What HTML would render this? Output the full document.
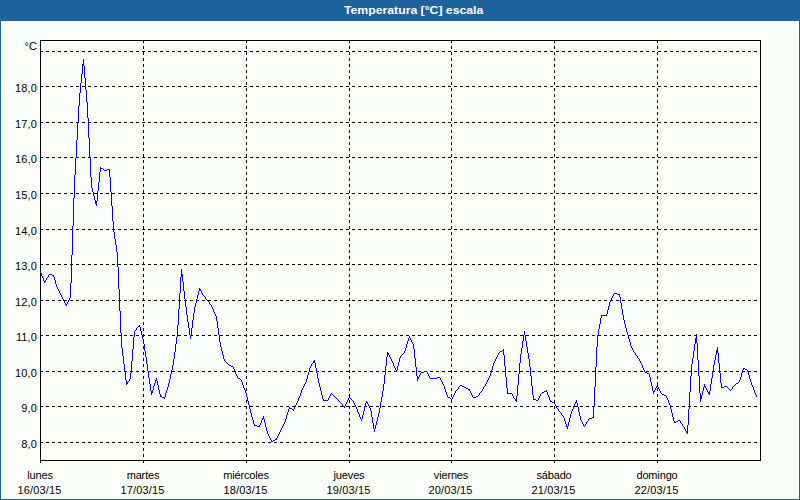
<!DOCTYPE html>
<html><head><meta charset="utf-8"><title>Temperatura</title>
<style>
html,body{margin:0;padding:0}
body{width:800px;height:500px;overflow:hidden;background:#1d6299;position:relative;font-family:"Liberation Sans",sans-serif;font-size:11px;color:#000}
#inner{position:absolute;left:1px;top:21px;width:798px;height:478px;background:#fcfefc}
#title{z-index:2;position:absolute;left:343.5px;top:0;width:300px;height:20px;line-height:20px;text-align:left;white-space:nowrap;color:#fff;font-weight:bold;font-size:11px}
.yl{position:absolute;left:0;width:37px;letter-spacing:0.12px;text-align:right;height:12px;line-height:12px;white-space:nowrap}
.xl{position:absolute;width:100px;text-align:center;height:12px;line-height:12px;white-space:nowrap}
</style></head><body>
<div id="title"><span id="tt" style="display:inline-block;transform-origin:0 50%;transform:scaleX(1.112)">Temperatura [°C] escala</span></div>
<div id="inner"></div>
<svg width="800" height="500" viewBox="0 0 800 500" style="position:absolute;left:0;top:0" shape-rendering="crispEdges"><defs><pattern id="dz" x="0" y="0" width="4" height="4" patternUnits="userSpaceOnUse"><rect x="0" y="1" width="1" height="1" fill="#2365b2"/><rect x="2" y="3" width="1" height="1" fill="#2365b2"/></pattern></defs><rect x="0" y="0" width="800" height="20" fill="url(#dz)"/><line x1="40" y1="442.5" x2="760" y2="442.5" stroke="#000" stroke-width="1" stroke-dasharray="3 3"/><line x1="40" y1="406.5" x2="760" y2="406.5" stroke="#000" stroke-width="1" stroke-dasharray="3 3"/><line x1="40" y1="371.5" x2="760" y2="371.5" stroke="#000" stroke-width="1" stroke-dasharray="3 3"/><line x1="40" y1="335.5" x2="760" y2="335.5" stroke="#000" stroke-width="1" stroke-dasharray="3 3"/><line x1="40" y1="300.5" x2="760" y2="300.5" stroke="#000" stroke-width="1" stroke-dasharray="3 3"/><line x1="40" y1="264.5" x2="760" y2="264.5" stroke="#000" stroke-width="1" stroke-dasharray="3 3"/><line x1="40" y1="229.5" x2="760" y2="229.5" stroke="#000" stroke-width="1" stroke-dasharray="3 3"/><line x1="40" y1="193.5" x2="760" y2="193.5" stroke="#000" stroke-width="1" stroke-dasharray="3 3"/><line x1="40" y1="157.5" x2="760" y2="157.5" stroke="#000" stroke-width="1" stroke-dasharray="3 3"/><line x1="40" y1="122.5" x2="760" y2="122.5" stroke="#000" stroke-width="1" stroke-dasharray="3 3"/><line x1="40" y1="86.5" x2="760" y2="86.5" stroke="#000" stroke-width="1" stroke-dasharray="3 3"/><line x1="40" y1="51.5" x2="760" y2="51.5" stroke="#000" stroke-width="1" stroke-dasharray="3 3"/><line x1="143.5" y1="40" x2="143.5" y2="463" stroke="#000" stroke-width="1" stroke-dasharray="3 3"/><line x1="246.5" y1="40" x2="246.5" y2="463" stroke="#000" stroke-width="1" stroke-dasharray="3 3"/><line x1="349.5" y1="40" x2="349.5" y2="463" stroke="#000" stroke-width="1" stroke-dasharray="3 3"/><line x1="451.5" y1="40" x2="451.5" y2="463" stroke="#000" stroke-width="1" stroke-dasharray="3 3"/><line x1="554.5" y1="40" x2="554.5" y2="463" stroke="#000" stroke-width="1" stroke-dasharray="3 3"/><line x1="657.5" y1="40" x2="657.5" y2="463" stroke="#000" stroke-width="1" stroke-dasharray="3 3"/><rect x="40.5" y="40.5" width="720" height="420" fill="none" stroke="#000" stroke-width="1"/><line x1="40.5" y1="460" x2="40.5" y2="463" stroke="#000" stroke-width="1"/><path d="M40.5 271v2M41.5 273v3M42.5 276v2M43.5 278v3M44.5 281v2M45.5 280v2M46.5 278v2M47.5 277v1M48.5 275v2M49.5 274v1M50.5 274v1M51.5 274v1M52.5 275v1M53.5 275v2M54.5 277v3M55.5 280v4M56.5 284v3M57.5 287v2M58.5 289v2M59.5 291v2M60.5 293v2M61.5 295v2M62.5 297v2M63.5 299v2M64.5 301v2M65.5 303v2M66.5 304v2M67.5 302v2M68.5 300v2M69.5 298v2M70.5 283v15M71.5 255v28M72.5 226v29M73.5 198v28M74.5 175v23M75.5 158v17M76.5 140v18M77.5 123v17M78.5 106v17M79.5 93v13M80.5 83v10M81.5 74v9M82.5 64v10M83.5 59v7M84.5 66v12M85.5 78v12M86.5 90v12M87.5 102v16M88.5 118v20M89.5 138v19M90.5 157v20M91.5 177v11M92.5 188v4M93.5 192v4M94.5 196v4M95.5 200v4M96.5 201v5M97.5 191v10M98.5 182v9M99.5 172v10M100.5 167v5M101.5 168v1M102.5 168v1M103.5 169v1M104.5 170v1M105.5 170v1M106.5 170v1M107.5 169v1M108.5 169v1M109.5 169v8M110.5 177v15M111.5 192v14M112.5 206v15M113.5 221v11M114.5 232v7M115.5 239v6M116.5 245v7M117.5 252v15M118.5 267v22M119.5 289v22M120.5 311v22M121.5 333v15M122.5 348v8M123.5 356v8M124.5 364v8M125.5 372v8M126.5 380v5M127.5 382v2M128.5 381v1M129.5 379v2M130.5 373v6M131.5 361v12M132.5 349v12M133.5 337v12M134.5 331v6M135.5 330v1M136.5 328v2M137.5 327v1M138.5 326v1M139.5 325v2M140.5 327v4M141.5 331v4M142.5 335v4M143.5 339v5M144.5 344v7M145.5 351v6M146.5 357v7M147.5 364v7M148.5 371v7M149.5 378v6M150.5 384v7M151.5 391v4M152.5 390v3M153.5 386v4M154.5 383v3M155.5 380v3M156.5 378v3M157.5 381v4M158.5 385v5M159.5 390v4M160.5 394v3M161.5 396v1M162.5 397v1M163.5 397v1M164.5 397v2M165.5 393v4M166.5 390v3M167.5 387v3M168.5 383v4M169.5 379v4M170.5 374v5M171.5 370v4M172.5 365v5M173.5 359v6M174.5 352v7M175.5 344v8M176.5 337v7M177.5 325v12M178.5 309v16M179.5 293v16M180.5 277v16M181.5 269v8M182.5 274v8M183.5 282v9M184.5 291v8M185.5 299v8M186.5 307v8M187.5 315v7M188.5 322v6M189.5 328v7M190.5 335v4M191.5 328v7M192.5 320v8M193.5 313v7M194.5 307v6M195.5 303v4M196.5 299v4M197.5 295v4M198.5 291v4M199.5 288v3M200.5 289v2M201.5 291v2M202.5 293v2M203.5 295v1M204.5 296v1M205.5 297v2M206.5 299v1M207.5 300v1M208.5 301v1M209.5 302v2M210.5 304v1M211.5 305v2M212.5 307v2M213.5 309v3M214.5 312v2M215.5 314v2M216.5 316v5M217.5 321v7M218.5 328v7M219.5 335v7M220.5 342v5M221.5 347v4M222.5 351v4M223.5 355v4M224.5 359v2M225.5 361v1M226.5 362v1M227.5 363v1M228.5 364v1M229.5 365v1M230.5 365v1M231.5 366v1M232.5 366v1M233.5 367v2M234.5 369v2M235.5 371v3M236.5 374v2M237.5 376v2M238.5 378v1M239.5 378v1M240.5 379v1M241.5 380v2M242.5 382v3M243.5 385v3M244.5 388v2M245.5 390v3M246.5 393v4M247.5 397v4M248.5 401v4M249.5 405v4M250.5 409v4M251.5 413v4M252.5 417v3M253.5 420v4M254.5 424v2M255.5 425v1M256.5 425v1M257.5 426v1M258.5 426v1M259.5 425v2M260.5 423v2M261.5 420v3M262.5 418v2M263.5 416v3M264.5 419v4M265.5 423v4M266.5 427v4M267.5 431v3M268.5 434v2M269.5 436v2M270.5 438v2M271.5 440v2M272.5 441v1M273.5 440v1M274.5 440v1M275.5 439v1M276.5 438v2M277.5 436v2M278.5 434v2M279.5 432v2M280.5 430v2M281.5 428v2M282.5 426v2M283.5 424v2M284.5 422v2M285.5 419v3M286.5 415v4M287.5 412v3M288.5 409v3M289.5 407v2M290.5 408v1M291.5 408v1M292.5 409v1M293.5 409v2M294.5 407v2M295.5 405v2M296.5 403v2M297.5 401v2M298.5 398v3M299.5 396v2M300.5 393v3M301.5 390v3M302.5 388v2M303.5 386v2M304.5 384v2M305.5 382v2M306.5 379v3M307.5 375v4M308.5 372v3M309.5 368v4M310.5 366v2M311.5 364v2M312.5 363v1M313.5 361v2M314.5 360v3M315.5 363v5M316.5 368v5M317.5 373v5M318.5 378v5M319.5 383v4M320.5 387v4M321.5 391v4M322.5 395v4M323.5 399v2M324.5 400v1M325.5 400v1M326.5 400v1M327.5 400v1M328.5 398v2M329.5 396v2M330.5 394v2M331.5 393v1M332.5 394v1M333.5 395v1M334.5 396v1M335.5 397v1M336.5 398v1M337.5 399v1M338.5 400v1M339.5 401v1M340.5 402v1M341.5 403v1M342.5 404v2M343.5 406v1M344.5 406v2M345.5 404v2M346.5 402v2M347.5 400v2M348.5 398v2M349.5 397v1M350.5 398v1M351.5 399v1M352.5 400v1M353.5 401v2M354.5 403v2M355.5 405v2M356.5 407v2M357.5 409v3M358.5 412v2M359.5 414v3M360.5 417v2M361.5 419v2M362.5 415v4M363.5 411v4M364.5 407v4M365.5 403v4M366.5 401v2M367.5 402v2M368.5 404v2M369.5 406v2M370.5 408v3M371.5 411v6M372.5 417v6M373.5 423v6M374.5 429v3M375.5 425v4M376.5 421v4M377.5 417v4M378.5 413v4M379.5 408v5M380.5 402v6M381.5 397v5M382.5 391v6M383.5 384v7M384.5 375v9M385.5 366v9M386.5 357v9M387.5 352v5M388.5 353v2M389.5 355v2M390.5 357v2M391.5 359v2M392.5 361v2M393.5 363v3M394.5 366v2M395.5 368v2M396.5 370v2M397.5 366v4M398.5 362v4M399.5 358v4M400.5 356v2M401.5 355v1M402.5 354v1M403.5 353v1M404.5 351v2M405.5 348v3M406.5 344v4M407.5 341v3M408.5 338v3M409.5 336v2M410.5 338v2M411.5 340v2M412.5 342v2M413.5 344v5M414.5 349v9M415.5 358v9M416.5 367v9M417.5 376v5M418.5 377v2M419.5 375v2M420.5 373v2M421.5 372v1M422.5 372v1M423.5 372v1M424.5 371v1M425.5 371v1M426.5 371v1M427.5 372v2M428.5 374v2M429.5 376v2M430.5 378v1M431.5 378v1M432.5 378v1M433.5 378v1M434.5 378v1M435.5 378v1M436.5 378v1M437.5 377v1M438.5 377v1M439.5 377v1M440.5 378v2M441.5 380v2M442.5 382v2M443.5 384v2M444.5 386v3M445.5 389v3M446.5 392v3M447.5 395v2M448.5 397v1M449.5 397v1M450.5 398v1M451.5 399v1M452.5 397v2M453.5 395v2M454.5 393v2M455.5 391v2M456.5 390v1M457.5 389v1M458.5 387v2M459.5 386v1M460.5 385v1M461.5 385v1M462.5 386v1M463.5 386v1M464.5 387v1M465.5 387v1M466.5 388v1M467.5 388v1M468.5 389v1M469.5 389v2M470.5 391v2M471.5 393v2M472.5 395v2M473.5 397v1M474.5 397v1M475.5 397v1M476.5 396v1M477.5 396v1M478.5 395v1M479.5 393v2M480.5 392v1M481.5 391v1M482.5 389v2M483.5 387v2M484.5 386v1M485.5 384v2M486.5 382v2M487.5 380v2M488.5 378v2M489.5 376v2M490.5 373v3M491.5 370v3M492.5 366v4M493.5 363v3M494.5 361v2M495.5 359v2M496.5 357v2M497.5 355v2M498.5 353v2M499.5 352v1M500.5 351v1M501.5 351v1M502.5 350v1M503.5 349v6M504.5 355v11M505.5 366v11M506.5 377v11M507.5 388v6M508.5 393v1M509.5 393v1M510.5 393v1M511.5 393v1M512.5 394v2M513.5 396v2M514.5 398v1M515.5 399v2M516.5 396v6M517.5 385v11M518.5 374v11M519.5 363v11M520.5 354v9M521.5 348v6M522.5 341v7M523.5 335v6M524.5 331v4M525.5 335v6M526.5 341v6M527.5 347v6M528.5 353v6M529.5 359v8M530.5 367v9M531.5 376v10M532.5 386v9M533.5 395v5M534.5 399v1M535.5 399v1M536.5 400v1M537.5 400v1M538.5 398v2M539.5 396v2M540.5 394v2M541.5 393v1M542.5 392v1M543.5 392v1M544.5 391v1M545.5 391v1M546.5 390v2M547.5 392v3M548.5 395v2M549.5 397v3M550.5 400v2M551.5 401v1M552.5 402v1M553.5 402v1M554.5 403v1M555.5 404v2M556.5 406v2M557.5 408v1M558.5 409v2M559.5 411v1M560.5 412v1M561.5 413v2M562.5 415v1M563.5 416v2M564.5 418v3M565.5 421v3M566.5 424v3M567.5 426v3M568.5 422v4M569.5 418v4M570.5 414v4M571.5 411v3M572.5 409v2M573.5 406v3M574.5 404v2M575.5 402v2M576.5 400v3M577.5 403v4M578.5 407v5M579.5 412v4M580.5 416v4M581.5 420v2M582.5 422v2M583.5 424v2M584.5 426v1M585.5 424v2M586.5 422v2M587.5 421v1M588.5 419v2M589.5 418v1M590.5 418v1M591.5 418v1M592.5 417v1M593.5 407v11M594.5 387v20M595.5 367v20M596.5 347v20M597.5 335v12M598.5 329v6M599.5 324v5M600.5 318v6M601.5 315v3M602.5 315v1M603.5 315v1M604.5 315v1M605.5 315v1M606.5 314v2M607.5 310v4M608.5 306v4M609.5 302v4M610.5 300v2M611.5 298v2M612.5 296v2M613.5 294v2M614.5 293v1M615.5 293v1M616.5 293v1M617.5 294v1M618.5 294v1M619.5 294v3M620.5 297v6M621.5 303v6M622.5 309v6M623.5 315v5M624.5 320v4M625.5 324v4M626.5 328v4M627.5 332v3M628.5 335v4M629.5 339v3M630.5 342v4M631.5 346v2M632.5 348v2M633.5 350v2M634.5 352v1M635.5 353v2M636.5 355v1M637.5 356v2M638.5 358v1M639.5 359v2M640.5 361v2M641.5 363v2M642.5 365v3M643.5 368v2M644.5 370v2M645.5 372v1M646.5 372v1M647.5 373v1M648.5 373v1M649.5 374v3M650.5 377v5M651.5 382v4M652.5 386v5M653.5 391v3M654.5 390v2M655.5 388v2M656.5 386v2M657.5 385v2M658.5 387v2M659.5 389v2M660.5 391v2M661.5 393v1M662.5 394v1M663.5 394v1M664.5 395v1M665.5 395v1M666.5 396v2M667.5 398v2M668.5 400v3M669.5 403v2M670.5 405v4M671.5 409v4M672.5 413v4M673.5 417v4M674.5 421v2M675.5 422v1M676.5 421v1M677.5 421v1M678.5 420v1M679.5 420v1M680.5 421v2M681.5 423v1M682.5 424v2M683.5 426v1M684.5 427v2M685.5 429v2M686.5 431v2M687.5 425v9M688.5 409v16M689.5 392v17M690.5 376v16M691.5 364v12M692.5 358v6M693.5 351v7M694.5 344v7M695.5 338v6M696.5 334v9M697.5 343v17M698.5 360v16M699.5 376v17M700.5 393v9M701.5 395v4M702.5 391v4M703.5 387v4M704.5 384v3M705.5 386v2M706.5 388v2M707.5 390v2M708.5 392v2M709.5 391v4M710.5 384v7M711.5 378v6M712.5 371v7M713.5 365v6M714.5 360v5M715.5 355v5M716.5 350v5M717.5 347v6M718.5 353v10M719.5 363v10M720.5 373v10M721.5 383v5M722.5 387v1M723.5 387v1M724.5 386v1M725.5 386v1M726.5 386v1M727.5 387v1M728.5 388v1M729.5 389v1M730.5 390v1M731.5 389v1M732.5 387v2M733.5 386v1M734.5 385v1M735.5 384v1M736.5 383v1M737.5 383v1M738.5 382v1M739.5 380v2M740.5 377v3M741.5 373v4M742.5 370v3M743.5 368v2M744.5 368v1M745.5 369v1M746.5 369v1M747.5 370v2M748.5 372v3M749.5 375v4M750.5 379v3M751.5 382v3M752.5 385v2M753.5 387v3M754.5 390v3M755.5 393v2M756.5 395v2" fill="none" stroke="#0000ff" stroke-width="1"/></svg>
<div class="yl" style="top:438px">8,0</div><div class="yl" style="top:402px">9,0</div><div class="yl" style="top:367px">10,0</div><div class="yl" style="top:331px">11,0</div><div class="yl" style="top:296px">12,0</div><div class="yl" style="top:260px">13,0</div><div class="yl" style="top:225px">14,0</div><div class="yl" style="top:189px">15,0</div><div class="yl" style="top:153px">16,0</div><div class="yl" style="top:118px">17,0</div><div class="yl" style="top:82px">18,0</div><div class="yl" style="top:40px">°C</div><div class="xl" style="left:-10px;top:469px;letter-spacing:-0.15px">lunes</div><div class="xl" style="left:-10.5px;top:484px;letter-spacing:0.15px">16/03/15</div><div class="xl" style="left:93px;top:469px;letter-spacing:-0.15px">martes</div><div class="xl" style="left:92.5px;top:484px;letter-spacing:0.15px">17/03/15</div><div class="xl" style="left:196px;top:469px;letter-spacing:-0.15px">miércoles</div><div class="xl" style="left:195.5px;top:484px;letter-spacing:0.15px">18/03/15</div><div class="xl" style="left:299px;top:469px;letter-spacing:-0.15px">jueves</div><div class="xl" style="left:298.5px;top:484px;letter-spacing:0.15px">19/03/15</div><div class="xl" style="left:401px;top:469px;letter-spacing:-0.15px">viernes</div><div class="xl" style="left:400.5px;top:484px;letter-spacing:0.15px">20/03/15</div><div class="xl" style="left:504px;top:469px;letter-spacing:-0.15px">sábado</div><div class="xl" style="left:503.5px;top:484px;letter-spacing:0.15px">21/03/15</div><div class="xl" style="left:607px;top:469px;letter-spacing:-0.15px">domingo</div><div class="xl" style="left:606.5px;top:484px;letter-spacing:0.15px">22/03/15</div>
</body></html>
